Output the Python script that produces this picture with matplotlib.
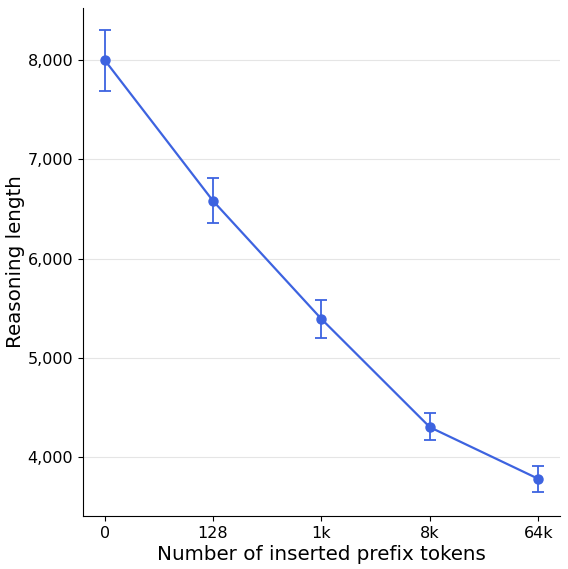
import numpy as np
import matplotlib.pyplot as plt
from matplotlib.ticker import FuncFormatter

tick_labels = ["0", "128", "1k", "8k", "64k"]
lengths = [8000, 6580, 5390, 4300, 3780]
err_low = [7690, 6360, 5200, 4170, 3650]
err_high = [8300, 6810, 5580, 4440, 3910]

color = "#3D63E0"
x = np.arange(len(tick_labels))
yerr = [np.array(lengths) - np.array(err_low), np.array(err_high) - np.array(lengths)]

fig = plt.figure(figsize=(5.68, 5.69), dpi=100)
ax = fig.add_axes([0.146, 0.093, 0.84, 0.893])
ax.plot(x, lengths, color=color, lw=1.6, zorder=3)
ax.errorbar(x, lengths, yerr=yerr, fmt="o", color=color, ms=6.5,
            ecolor=color, elinewidth=1.3, capsize=4, capthick=1.3, zorder=4)

ax.set_xticks(x)
ax.set_xticklabels(tick_labels)
ax.set_xlim(-0.2, 4.2)
ax.set_ylim(3405, 8524)
ax.set_yticks([4000, 5000, 6000, 7000, 8000])
ax.yaxis.set_major_formatter(FuncFormatter(lambda v, p: f"{int(v):,}"))
ax.grid(axis="y", color="#e5e5e5", lw=0.8)
ax.set_axisbelow(True)
for s in ["top", "right"]:
    ax.spines[s].set_visible(False)
ax.tick_params(labelsize=11.5)
ax.set_xlabel("Number of inserted prefix tokens", fontsize=14.3, labelpad=3)
ax.set_ylabel("Reasoning length", fontsize=14.3, labelpad=2)

plt.savefig("out.png", dpi=100)
